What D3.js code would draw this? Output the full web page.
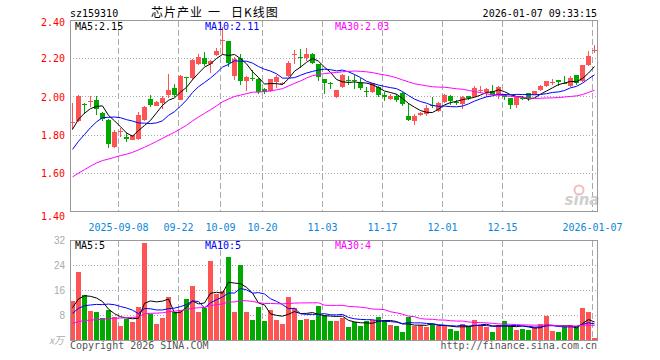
<!DOCTYPE html>
<html>
<head>
<meta charset="utf-8">
<script src="https://cdn.jsdelivr.net/npm/d3@7/dist/d3.min.js"></script>
<style>
body { margin: 0; background: #fff; }
svg text { font-family: "DejaVu Sans Mono", "Liberation Mono", monospace; font-size: 10px; }
</style>
</head>
<body>
<div id="chart-area"></div>
<script>
/*
*    sz159310 daily K-line
*/

var dates = [
  "2025-08-27","2025-08-28","2025-08-29","2025-09-01","2025-09-02","2025-09-03","2025-09-04","2025-09-05",
  "2025-09-08","2025-09-09","2025-09-10","2025-09-11","2025-09-12","2025-09-15","2025-09-16","2025-09-17",
  "2025-09-18","2025-09-19","2025-09-22","2025-09-23","2025-09-24","2025-09-25","2025-09-26","2025-09-29",
  "2025-09-30","2025-10-09","2025-10-10","2025-10-13","2025-10-14","2025-10-15","2025-10-16","2025-10-17",
  "2025-10-20","2025-10-21","2025-10-22","2025-10-23","2025-10-24","2025-10-27","2025-10-28","2025-10-29",
  "2025-10-30","2025-10-31","2025-11-03","2025-11-04","2025-11-05","2025-11-06","2025-11-07","2025-11-10",
  "2025-11-11","2025-11-12","2025-11-13","2025-11-14","2025-11-17","2025-11-18","2025-11-19","2025-11-20",
  "2025-11-21","2025-11-24","2025-11-25","2025-11-26","2025-11-27","2025-11-28","2025-12-01","2025-12-02",
  "2025-12-03","2025-12-04","2025-12-05","2025-12-08","2025-12-09","2025-12-10","2025-12-11","2025-12-12",
  "2025-12-15","2025-12-16","2025-12-17","2025-12-18","2025-12-19","2025-12-22","2025-12-23","2025-12-24",
  "2025-12-25","2025-12-26","2025-12-29","2025-12-30","2025-12-31","2026-01-05","2026-01-06","2026-01-07"
];

var open = [
  1.865,1.874,1.962,1.976,1.986,1.916,1.879,1.739,1.818,1.790,1.776,1.778,1.879,1.990,1.954,1.968,
  2.011,2.044,1.986,2.102,2.098,2.172,2.204,2.172,2.218,2.296,2.291,2.110,2.204,2.084,2.098,2.095,
  2.042,2.031,2.077,2.069,2.107,2.222,2.207,2.204,2.225,2.172,2.095,2.072,2.002,2.050,2.086,2.090,
  2.075,2.030,2.025,2.050,2.011,1.990,2.005,2.020,1.900,1.874,1.904,1.909,1.956,1.926,1.972,2.005,
  1.975,1.965,2.005,2.002,2.035,2.025,2.032,2.011,2.011,1.993,1.958,1.995,2.020,2.011,2.037,2.055,
  2.074,2.089,2.074,2.055,2.116,2.081,2.168,2.240
];
var high = [
  1.967,2.008,1.966,2.004,2.004,1.923,1.882,1.826,1.836,1.809,1.800,1.919,1.951,2.010,1.976,2.005,
  2.119,2.067,2.114,2.106,2.197,2.225,2.233,2.193,2.256,2.368,2.293,2.207,2.225,2.108,2.142,2.097,
  2.046,2.096,2.116,2.078,2.186,2.247,2.251,2.256,2.229,2.174,2.096,2.080,2.037,2.118,2.107,2.116,
  2.098,2.050,2.075,2.055,2.025,2.014,2.014,2.025,1.967,1.909,1.920,1.958,2.002,1.972,2.015,2.011,
  1.986,2.004,2.006,2.055,2.055,2.046,2.060,2.055,2.014,1.995,2.000,2.004,2.021,2.032,2.063,2.081,
  2.095,2.090,2.107,2.107,2.117,2.165,2.242,2.274
];
var low = [
  1.826,1.870,1.912,1.945,1.903,1.876,1.730,1.733,1.790,1.765,1.772,1.774,1.875,1.949,1.950,1.936,
  1.995,2.002,1.984,2.026,2.086,2.168,2.160,2.125,2.215,2.221,2.154,2.090,2.063,2.031,2.084,2.014,
  2.014,2.028,2.046,2.060,2.105,2.172,2.151,2.186,2.172,2.084,2.014,2.040,1.993,2.048,2.060,2.039,
  2.037,1.997,2.022,1.997,1.979,1.985,1.975,1.954,1.874,1.853,1.900,1.898,1.940,1.923,1.970,1.958,
  1.958,1.935,1.984,2.000,2.020,1.997,2.018,1.990,1.986,1.937,1.944,1.986,1.980,2.011,2.030,2.051,
  2.060,2.055,2.068,2.050,2.063,2.080,2.160,2.230
];
var close = [
  1.870,2.005,1.958,1.980,1.938,1.884,1.756,1.817,1.823,1.777,1.798,1.905,1.948,1.958,1.973,1.996,
  2.037,2.011,2.107,2.099,2.195,2.207,2.172,2.190,2.242,2.300,2.179,2.200,2.081,2.106,2.093,2.028,
  2.028,2.095,2.102,2.072,2.177,2.226,2.204,2.225,2.177,2.102,2.072,2.068,2.037,2.116,2.084,2.088,
  2.046,2.028,2.072,2.011,1.997,2.007,1.984,1.961,1.879,1.900,1.918,1.940,1.954,1.967,2.011,1.979,
  1.972,2.000,1.993,2.046,2.037,2.042,2.011,2.050,1.997,1.958,1.997,1.993,1.993,2.032,2.055,2.081,
  2.077,2.077,2.072,2.098,2.072,2.165,2.216,2.245
];
// volume, 万
var volume = [
  12.8,21.9,14.7,9.6,9.0,7.1,9.8,7.4,4.8,6.9,5.9,10.6,31.3,8.6,5.4,7.1,
  13.9,9.0,9.8,13.4,17.3,9.1,10.5,25.3,14.9,16.0,26.6,9.1,24.3,9.1,6.7,10.7,
  6.2,9.9,6.7,5.4,13.8,10.5,6.7,7.0,6.7,10.9,8.3,6.2,6.4,7.1,4.2,5.9,
  4.8,6.1,6.6,7.5,6.7,5.1,4.5,2.7,7.5,4.8,5.1,4.2,5.3,4.6,5.0,3.8,
  3.2,5.3,4.8,6.7,5.0,4.2,2.6,5.1,6.1,4.8,3.5,3.8,3.5,4.3,5.4,7.8,
  3.2,2.6,4.6,5.0,4.6,10.3,9.0,0.7
];

// 29 sessions before the window (not drawn, only feed the moving averages)
var priorCloses = [
  1.40,1.42,1.43,1.44,1.50,1.53,1.55,1.54,1.55,1.52,1.51,1.53,1.52,1.50,1.52,1.54,
  1.55,1.56,1.55,1.52,1.58,1.60,1.62,1.64,1.66,1.74,1.80,1.86,1.88
];
var priorVolumes = [
  5,5.5,4.5,5,3.2,3.5,3.8,3.4,3.6,3.9,3.5,3.3,3.7,3.6,3.4,3.8,
  3.5,3.7,3.9,4.2,6,6.5,7,7.2,7.8,8,9.5,10.5,11.7
];

var tickDates = ["2025-09-08","2025-09-22","2025-10-09","2025-10-20","2025-11-03","2025-11-17","2025-12-01","2025-12-15","2026-01-07"];
var tickLabels = ["2025-09-08","09-22","10-09","10-20","11-03","11-17","12-01","12-15","2026-01-07"];
var priceTicks = [2.40, 2.20, 2.00, 1.80, 1.60, 1.40];
var volTicks = [32, 24, 16, 8];

var UP = "#ff5454", DOWN = "#00a800", GRID = "#aaaaaa";
var maColors = {5: "#000000", 10: "#0000ff", 30: "#ff00ff"};
var maX = {5: 75, 10: 205, 30: 335};

function movingAvg(values, prior, n) {
    var all = prior.concat(values);
    var off = prior.length;
    return values.map((v, i) => {
        return d3.mean(all.slice(off + i - n + 1, off + i + 1));
    });
}

var data = dates.map((d, i) => {
    return {date: d, o: open[i], h: high[i], l: low[i], c: close[i], v: volume[i]};
});

var svg = d3.select("#chart-area").append("svg")
    .attr("width", 660)
    .attr("height", 360);

var x = d3.scaleBand()
    .domain(dates)
    .range([69.5, 597.5]);

var y = d3.scaleLinear()
    .domain([1.40, 2.40])
    .range([211.5, 20.5]);

var yv = d3.scaleLinear()
    .domain([0, 32])
    .range([340.5, 240.5]);

var cx = (d) => { return x(d) + 3; };

// header
svg.append("text").attr("x", 70).attr("y", 16.5).text("sz159310");
[["芯片产业", 151], ["一", 208], ["日K线图", 231]].forEach((t) => {
    svg.append("text")
        .attr("x", t[1]).attr("y", 16.5)
        .style("font-family", "'Noto Sans CJK SC', sans-serif")
        .style("font-size", "12px")
        .style("letter-spacing", "1px")
        .text(t[0]);
});
svg.append("text").attr("x", 597).attr("y", 16.5).attr("text-anchor", "end").text("2026-01-07 09:33:15");

// grid, both panels
function panelGrid(scale, ticks, top, bottom) {
    svg.append("g").selectAll("line")
        .data(ticks)
        .enter().append("line")
        .attr("x1", 70).attr("x2", 597)
        .attr("y1", (d) => { return Math.round(scale(d) - 0.5) + 0.5; })
        .attr("y2", (d) => { return Math.round(scale(d) - 0.5) + 0.5; })
        .attr("stroke", GRID)
        .attr("stroke-dasharray", "1,2");

    svg.append("g").selectAll("line")
        .data(tickDates)
        .enter().append("line")
        .attr("x1", (d) => { return x(d) + 1; })
        .attr("x2", (d) => { return x(d) + 1; })
        .attr("y1", top).attr("y2", bottom)
        .attr("stroke", GRID)
        .attr("stroke-dasharray", "6,3");
}
panelGrid(y, priceTicks.slice(1, -1), 21, 211);
panelGrid(yv, volTicks.slice(1), 241, 340);

// price axis labels
var yAxis = d3.axisLeft(y)
    .tickValues(priceTicks)
    .tickSize(0)
    .tickPadding(5)
    .tickFormat(d3.format(".2f"));

var y_group = svg.append("g")
    .attr("transform", "translate(70, 0)")
    .call(yAxis);
y_group.select(".domain").remove();
y_group.selectAll("text")
    .attr("fill", "#ff0000")
    .attr("dy", (d, i) => { return i === 0 ? "0.45em" : (i === priceTicks.length - 1 ? "0.8em" : "0.32em"); })
    .style("font-family", "'DejaVu Sans Mono', monospace")
    .style("font-size", "10px");

// date labels
svg.append("g").selectAll("text")
    .data(tickDates)
    .enter().append("text")
    .attr("x", (d) => { return x(d) + 1; })
    .attr("y", 231)
    .attr("text-anchor", "middle")
    .attr("fill", "#0b86d8")
    .text((d, i) => { return tickLabels[i]; });

// volume axis labels
var vAxis = d3.axisLeft(yv)
    .tickValues(volTicks)
    .tickSize(0)
    .tickPadding(5);

var v_group = svg.append("g")
    .attr("transform", "translate(70, 0)")
    .call(vAxis);
v_group.select(".domain").remove();
v_group.selectAll("text")
    .attr("fill", "#aaaaaa")
    .style("font-family", "'Liberation Sans', sans-serif")
    .style("font-size", "10px");

svg.append("text")
    .attr("x", 64).attr("y", 344)
    .attr("text-anchor", "end")
    .attr("fill", "#aaaaaa")
    .style("font-family", "'Noto Sans CJK SC', sans-serif")
    .style("font-style", "italic")
    .style("font-size", "10px")
    .text("x万");

// sina watermark
svg.append("circle")
    .attr("cx", 579).attr("cy", 190).attr("r", 4.5)
    .attr("fill", "none")
    .attr("stroke", "#f6bcbc")
    .attr("stroke-width", 2);
svg.append("text")
    .attr("x", 582).attr("y", 205)
    .attr("text-anchor", "middle")
    .attr("fill", "#cfcfcf")
    .style("font-family", "'DejaVu Sans', sans-serif")
    .style("font-style", "italic")
    .style("font-weight", "bold")
    .style("font-size", "15px")
    .text("sina");

// candles
var candles = svg.append("g").attr("shape-rendering", "crispEdges");

candles.selectAll("line")
    .data(data)
    .enter().append("line")
    .attr("x1", (d) => { return cx(d.date); })
    .attr("x2", (d) => { return cx(d.date); })
    .attr("y1", (d) => { return y(d.h); })
    .attr("y2", (d) => { return y(d.l); })
    .attr("stroke", (d) => { return d.c >= d.o ? UP : DOWN; });

candles.selectAll("rect")
    .data(data)
    .enter().append("rect")
    .attr("x", (d) => { return x(d.date) + 0.5; })
    .attr("width", 5)
    .attr("y", (d) => { return y(Math.max(d.o, d.c)); })
    .attr("height", (d) => { return Math.max(1, Math.abs(y(d.o) - y(d.c))); })
    .attr("fill", (d) => { return d.c >= d.o ? UP : DOWN; });

// volume bars
svg.append("g").attr("shape-rendering", "crispEdges")
    .selectAll("rect")
    .data(data)
    .enter().append("rect")
    .attr("x", (d) => { return x(d.date) + 0.5; })
    .attr("width", 5)
    .attr("y", (d) => { return yv(d.v); })
    .attr("height", (d) => { return yv(0) - yv(d.v); })
    .attr("fill", (d) => { return d.c >= d.o ? UP : DOWN; });

// moving averages
[5, 10, 30].forEach((n) => {
    var pm = movingAvg(close, priorCloses, n);
    var vm = movingAvg(volume, priorVolumes, n);

    var line = d3.line()
        .x((d, i) => { return cx(dates[i]); })
        .y((d) => { return y(d); });
    var vline = d3.line()
        .x((d, i) => { return cx(dates[i]); })
        .y((d) => { return yv(d); });

    svg.append("path").attr("d", line(pm))
        .attr("fill", "none").attr("stroke", maColors[n]).attr("stroke-width", 1);
    svg.append("path").attr("d", vline(vm))
        .attr("fill", "none").attr("stroke", maColors[n]).attr("stroke-width", 1);

    var last = pm[pm.length - 1];
    var lastV = vm[vm.length - 1];
    svg.append("text").attr("x", maX[n]).attr("y", 30)
        .attr("fill", maColors[n])
        .text("MA" + n + ":" + (Math.floor(last * 100 + 1e-6) / 100).toFixed(2));
    svg.append("text").attr("x", maX[n]).attr("y", 249)
        .attr("fill", maColors[n])
        .text("MA" + n + ":" + Math.floor(lastV));
});

// frames
svg.append("rect").attr("x", 70.5).attr("y", 20.5).attr("width", 527).attr("height", 191)
    .attr("fill", "none").attr("stroke", "#999999");
svg.append("rect").attr("x", 70.5).attr("y", 240.5).attr("width", 527).attr("height", 100)
    .attr("fill", "none").attr("stroke", "#999999");

// footer
svg.append("text").attr("x", 70).attr("y", 349).attr("fill", "#555555").text("Copyright 2026 SINA.COM");
svg.append("text").attr("x", 597).attr("y", 349).attr("text-anchor", "end").attr("fill", "#555555").text("http://finance.sina.com.cn");
</script>
</body>
</html>
